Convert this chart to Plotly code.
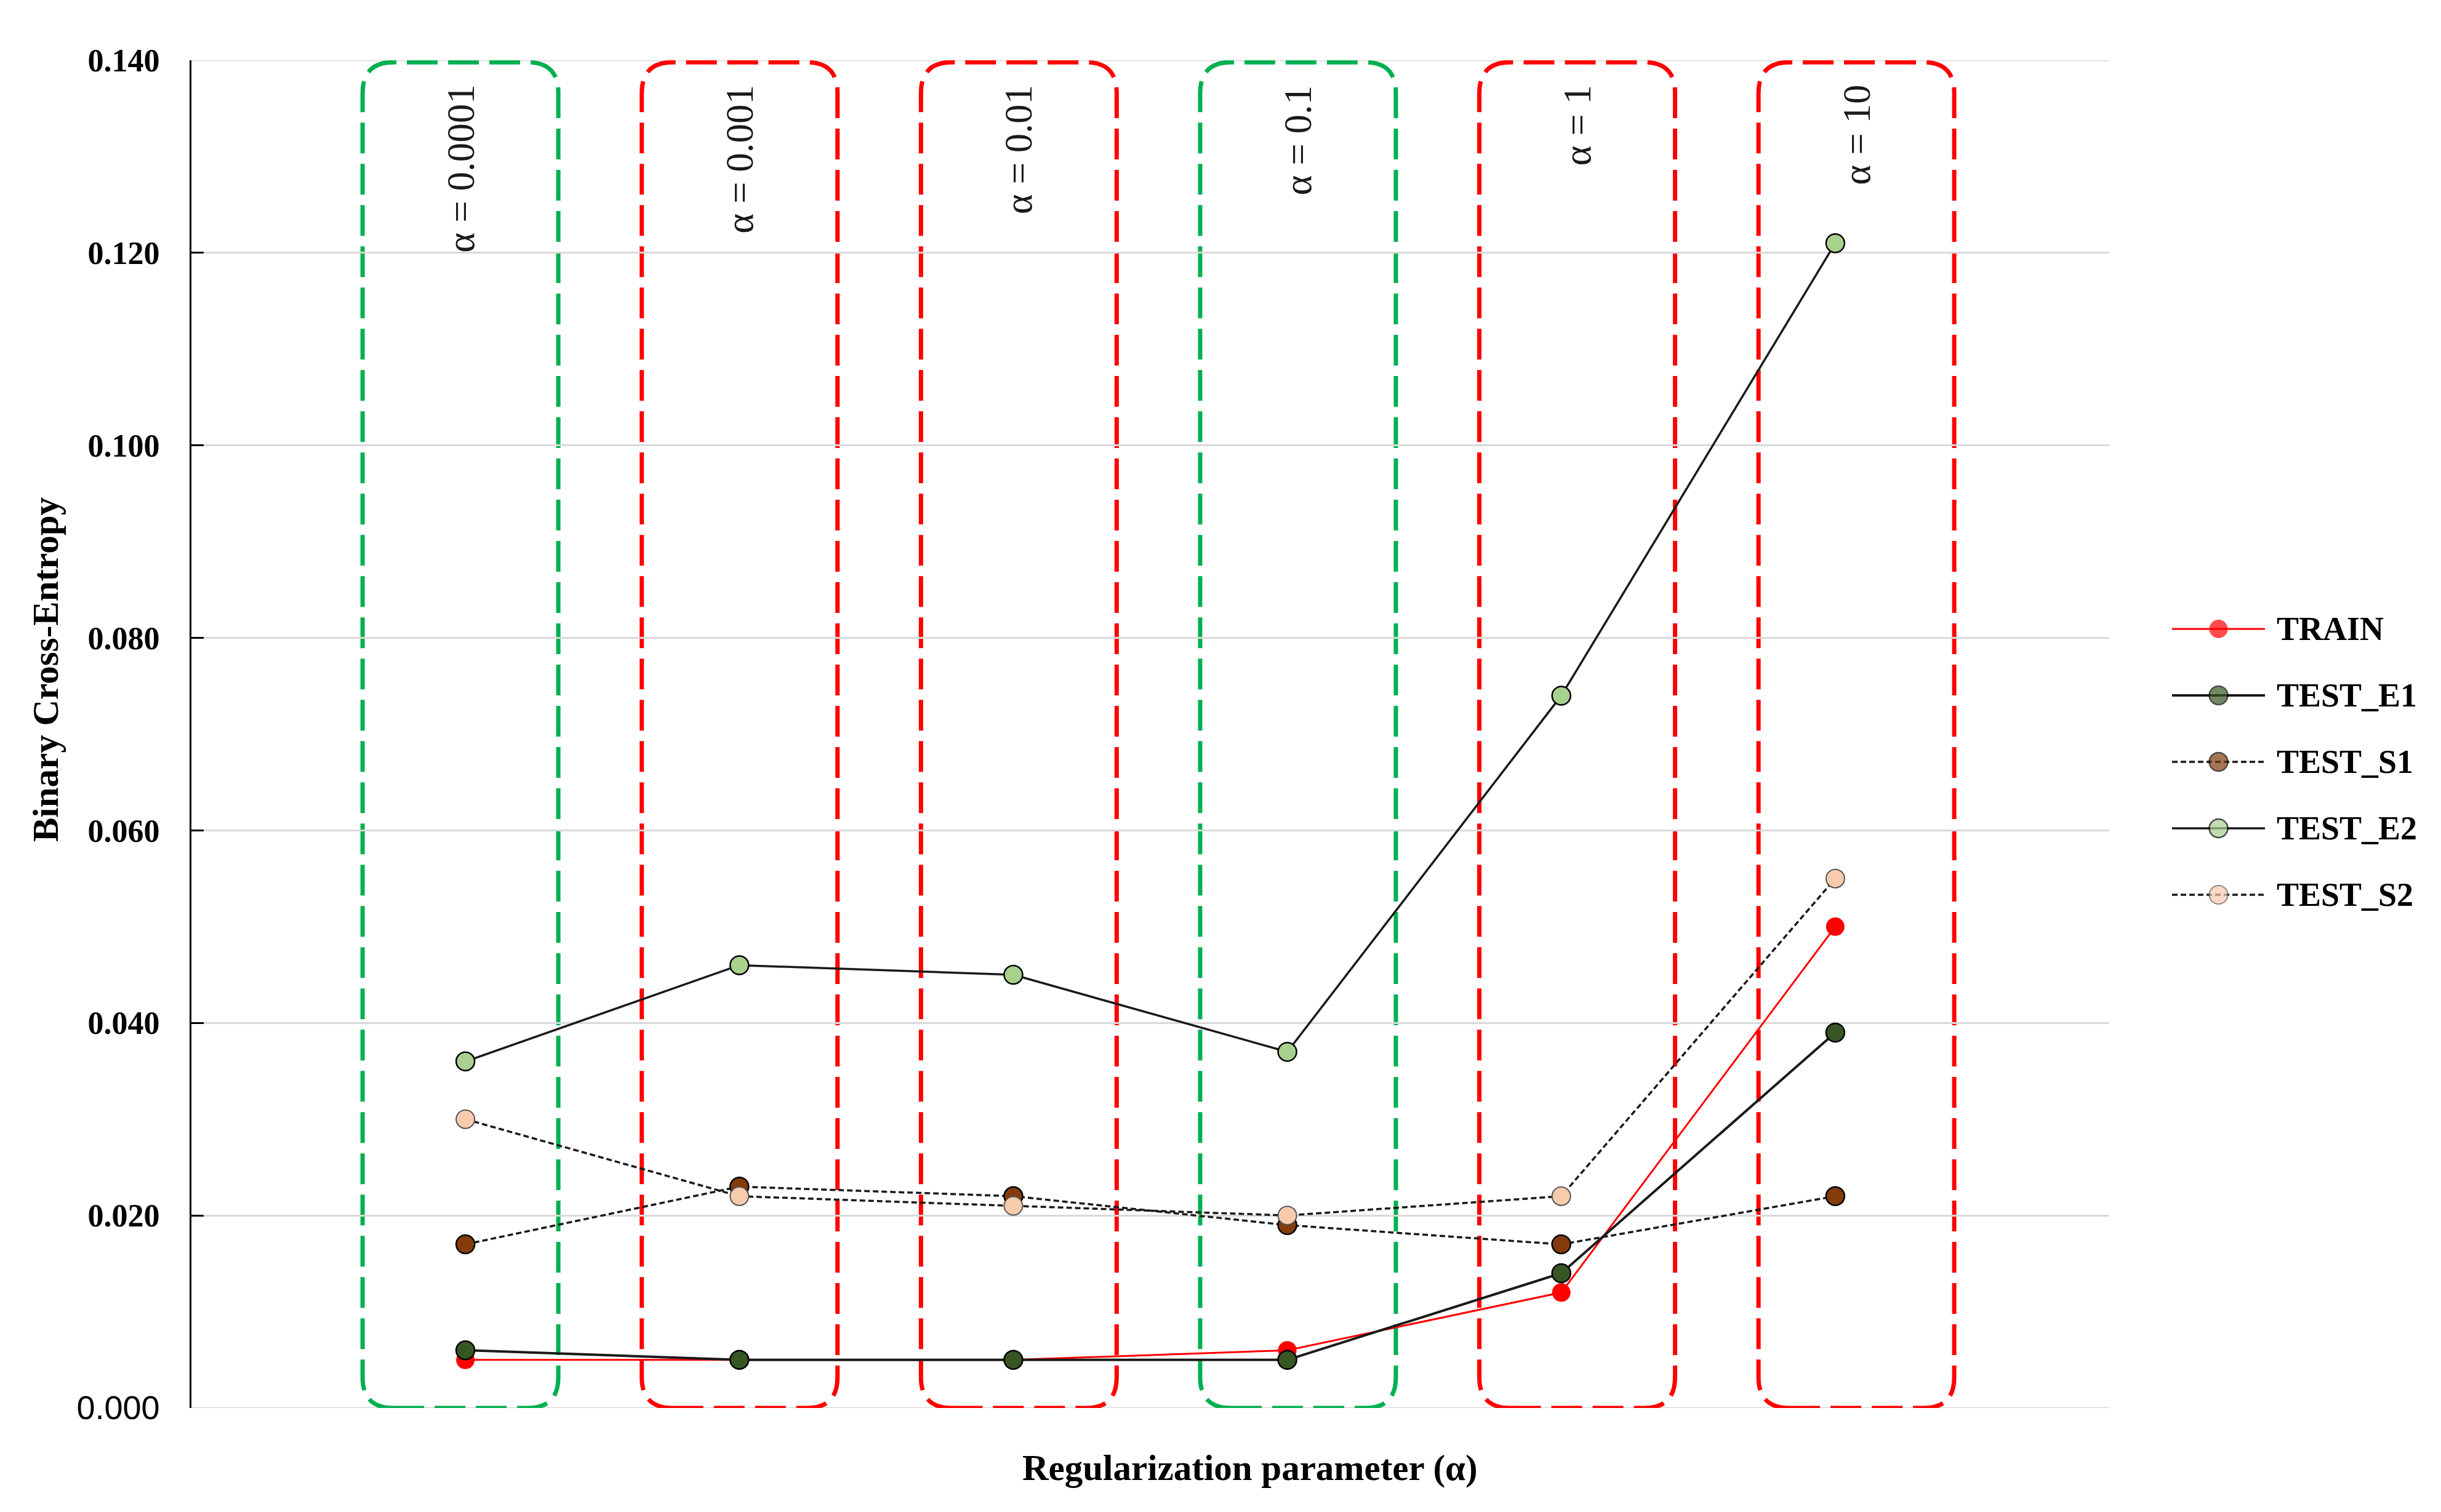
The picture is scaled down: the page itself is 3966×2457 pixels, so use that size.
import plotly.graph_objects as go

# values
alphas = ["0.0001", "0.001", "0.01", "0.1", "1", "10"]
train = [0.005, 0.005, 0.005, 0.006, 0.012, 0.050]
test_e1 = [0.006, 0.005, 0.005, 0.005, 0.014, 0.039]
test_s1 = [0.017, 0.023, 0.022, 0.019, 0.017, 0.022]
test_e2 = [0.036, 0.046, 0.045, 0.037, 0.074, 0.121]
test_s2 = [0.030, 0.022, 0.021, 0.020, 0.022, 0.055]
selected = [True, False, False, True, False, False]   # green boxes

y_ticks = [0.0, 0.02, 0.04, 0.06, 0.08, 0.10, 0.12, 0.14]
x_range = [-1, 6]

SERIF = "Liberation Serif"
W, H = 3966, 2457
ML, MR, MT, MB = 311, 20, 98, 169
plot_w = W - ML - MR
x_dom_end = 3116 / plot_w

xs = list(range(len(alphas)))

series = [
    ("TRAIN", train, dict(color="#FF0000", width=3), dict(color="#FF0000", line=dict(width=0))),
    ("TEST_E1", test_e1, dict(color="#1A1A1A", width=4), dict(color="#375623", line=dict(color="#000000", width=2.5))),
    ("TEST_S1", test_s1, dict(color="#1A1A1A", width=3.5, dash="9px,5px"), dict(color="#843C0C", line=dict(color="#000000", width=2.5))),
    ("TEST_E2", test_e2, dict(color="#1A1A1A", width=3.5), dict(color="#A9D18E", line=dict(color="#000000", width=2.5))),
    ("TEST_S2", test_s2, dict(color="#1A1A1A", width=3.5, dash="9px,5px"), dict(color="#F8CBAD", line=dict(color="#555555", width=2))),
]

fig = go.Figure()

# top and bottom gridlines (plotly drops grid lines sitting on the plot edge)
for v in (y_ticks[0], y_ticks[-1]):
    fig.add_shape(type="line", xref="x", yref="y", x0=x_range[0], x1=x_range[1], y0=v, y1=v,
                  layer="below", line=dict(color="#D9D9D9", width=3))

for name, vals, line, marker in series:
    fig.add_trace(go.Scatter(
        x=xs, y=vals, name=name, mode="lines+markers",
        line=line, marker=dict(size=30, **marker),
        showlegend=False, cliponaxis=False,
    ))

# hand-made legend on its own small axes (long line samples like the original)
for i, (name, vals, line, marker) in enumerate(series):
    fig.add_trace(go.Scatter(
        x=[0, 0.5, 1], y=[i, i, i], mode="lines+markers",
        line=line, marker=dict(size=[0, 30, 0], **marker),
        xaxis="x2", yaxis="y2", showlegend=False, hoverinfo="skip",
    ))
    fig.add_annotation(
        x=1, y=i, xref="x2", yref="y2", xanchor="left", yanchor="middle",
        xshift=17, text="<b>" + name + "</b>", showarrow=False,
        font=dict(family=SERIF, size=54, color="#000000"),
    )

# rounded dashed boxes around each alpha
px_x = 3116 / 7.0          # pixels per category
px_y = 2190 / 0.14         # pixels per unit of y
rx, ry = 50 / px_x, 50 / px_y
half = 159 / px_x
for i, a in enumerate(alphas):
    cx = i * 1.019 - 0.018
    x0, x1 = cx - half, cx + half
    y0, y1 = 0.0, 0.1398
    path = (f"M{x0 + rx},{y0} L{x1 - rx},{y0} Q{x1},{y0} {x1},{y0 + ry} "
            f"L{x1},{y1 - ry} Q{x1},{y1} {x1 - rx},{y1} "
            f"L{x0 + rx},{y1} Q{x0},{y1} {x0},{y1 - ry} "
            f"L{x0},{y0 + ry} Q{x0},{y0} {x0 + rx},{y0} Z")
    col = "#00B050" if selected[i] else "#FF0000"
    fig.add_shape(type="path", path=path, xref="x", yref="y", layer="below",
                  line=dict(color=col, width=7, dash="50px,17px"))
    fig.add_annotation(
        x=cx, y=0.14, xref="x", yref="y", yshift=-38,
        xanchor="center", yanchor="top", textangle=-90,
        text="\u03b1 = " + a, showarrow=False,
        font=dict(family=SERIF, size=63, color="#1A1A1A"),
    )

tick_text = []
for v in y_ticks:
    if v == 0:
        tick_text.append('<span style="font-family:Liberation Sans Narrow, Liberation Sans; font-size:54px">0.000</span>')
    else:
        tick_text.append("<b>%.3f</b>" % v)

# axis titles
fig.add_annotation(
    x=(2031 - ML) / 3116 * x_dom_end, y=0, xref="paper", yref="paper",
    yshift=-97, xanchor="center", yanchor="middle",
    text="<b>Regularization parameter (\u03b1)</b>", showarrow=False,
    font=dict(family=SERIF, size=59, color="#000000"),
)
fig.add_annotation(
    x=(74 - ML) / plot_w, y=(2288 - 1088) / 2190, xref="paper", yref="paper",
    xanchor="center", yanchor="middle", textangle=-90,
    text="<b>Binary Cross-Entropy</b>", showarrow=False,
    font=dict(family=SERIF, size=59, color="#000000"),
)

row_h = 108
mid = (2288 - 1238) / 2190
half_h = 2.5 * row_h / 2190

fig.update_layout(
    width=W, height=H,
    margin=dict(l=ML, r=MR, t=MT, b=MB),
    paper_bgcolor="white", plot_bgcolor="rgba(0,0,0,0)",
    xaxis=dict(domain=[0, x_dom_end], range=x_range, showgrid=False, zeroline=False,
               showticklabels=False, showline=False, ticks=""),
    yaxis=dict(range=[0, 0.14], tickvals=y_ticks, ticktext=tick_text,
               showgrid=True, gridcolor="#D9D9D9", gridwidth=3, zeroline=False,
               showline=True, linecolor="#000000", linewidth=3,
               ticks="inside", ticklen=20, tickwidth=3, tickcolor="#000000",
               ticklabelstandoff=38,
               tickfont=dict(family=SERIF, size=52, color="#000000")),
    xaxis2=dict(domain=[(3529 - ML) / plot_w, (3680 - ML) / plot_w], range=[0, 1],
                visible=False, anchor="y2"),
    yaxis2=dict(domain=[mid - half_h, mid + half_h], range=[4.5, -0.5],
                visible=False, anchor="x2"),
    showlegend=False,
)

# the page's default body margin would push the figure 8px down and right
fig.write_html("out.html", config={"displayModeBar": False},
               post_script="document.body.style.margin='0';")
